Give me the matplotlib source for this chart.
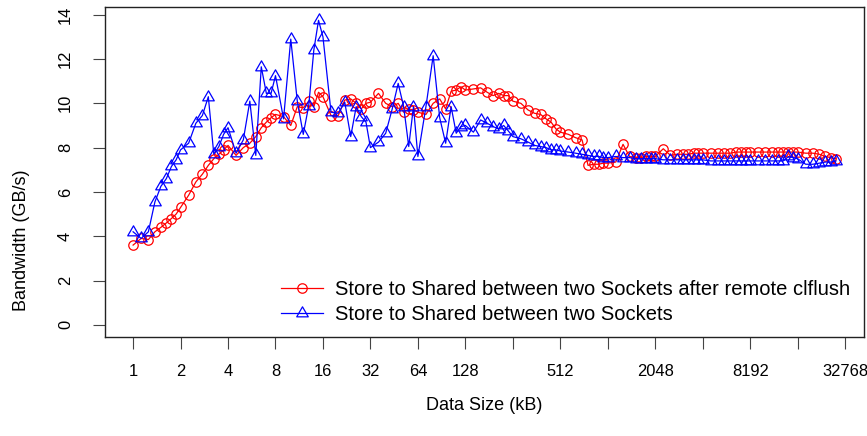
import matplotlib
matplotlib.use("Agg")
import matplotlib.pyplot as plt
from matplotlib.path import Path

plt.rcParams['font.family'] = ['Liberation Sans', 'DejaVu Sans']

# data sizes in kB, 8 steps per power of two
sizes = [
    1, 1.125, 1.25, 1.375, 1.5, 1.625, 1.75, 1.875,
    2, 2.25, 2.5, 2.75, 3, 3.25, 3.5, 3.75,
    4, 4.5, 5, 5.5, 6, 6.5, 7, 7.5,
    8, 9, 10, 11, 12, 13, 14, 15,
    16, 18, 20, 22, 24, 26, 28, 30,
    32, 36, 40, 44, 48, 52, 56, 60,
    64, 72, 80, 88, 96, 104, 112, 120,
    128, 144, 160, 176, 192, 208, 224, 240,
    256, 288, 320, 352, 384, 416, 448, 480,
    512, 576, 640, 704, 768, 832, 896, 960,
    1024, 1152, 1280, 1408, 1536, 1664, 1792, 1920,
    2048, 2304, 2560, 2816, 3072, 3328, 3584, 3840,
    4096, 4608, 5120, 5632, 6144, 6656, 7168, 7680,
    8192, 9216, 10240, 11264, 12288, 13312, 14336, 15360,
    16384, 18432, 20480, 22528, 24576, 26624, 28672,
]

# GB/s, store after remote clflush
bw_clflush = [
    3.6, 3.9, 3.85, 4.2, 4.4, 4.6, 4.8, 5.0,
    5.3, 5.85, 6.45, 6.8, 7.2, 7.5, 7.7, 7.9,
    8.1, 7.65, 8.0, 8.2, 8.5, 8.9, 9.15, 9.35,
    9.5, 9.4, 9.0, 9.85, 9.8, 10.1, 9.85, 10.5,
    10.3, 9.45, 9.45, 10.15, 10.2, 10.0, 9.75, 10.0,
    10.05, 10.45, 10.0, 9.85, 10.0, 9.6, 9.75, 9.7,
    9.6, 9.5, 10.0, 10.2, 9.75, 10.55, 10.6, 10.75,
    10.6, 10.65, 10.7, 10.5, 10.35, 10.45, 10.35, 10.35,
    10.1, 10.0, 9.7, 9.55, 9.5, 9.3, 9.15, 8.85,
    8.7, 8.6, 8.45, 8.35, 7.2, 7.25, 7.25, 7.3,
    7.3, 7.35, 8.15, 7.6, 7.55, 7.55, 7.6, 7.6,
    7.6, 7.95, 7.65, 7.7, 7.7, 7.7, 7.75, 7.75,
    7.75, 7.75, 7.75, 7.75, 7.75, 7.8, 7.8, 7.8,
    7.8, 7.8, 7.8, 7.8, 7.8, 7.8, 7.8, 7.8,
    7.8, 7.75, 7.75, 7.7, 7.6, 7.55, 7.5,
]

# GB/s, plain store
bw_store = [
    4.2, 3.9, 4.2, 5.55, 6.25, 6.6, 7.15, 7.45,
    7.9, 8.2, 9.1, 9.45, 10.3, 7.7, 8.05, 8.6,
    8.9, 7.75, 8.35, 10.1, 7.65, 11.65, 10.45, 10.45,
    11.25, 9.3, 12.9, 10.1, 8.6, 9.9, 12.4, 13.75,
    13.0, 9.6, 9.55, 10.05, 8.5, 9.85, 9.4, 9.15,
    8.0, 8.25, 8.65, 9.75, 10.9, 9.85, 8.05, 9.85,
    7.6, 9.85, 12.15, 9.35, 8.2, 9.85, 8.65, 8.95,
    9.0, 8.7, 9.25, 9.1, 8.95, 8.85, 9.0, 8.75,
    8.5, 8.4, 8.25, 8.1, 8.05, 8.0, 7.9, 7.9,
    7.85, 7.8, 7.75, 7.7, 7.65, 7.6, 7.6, 7.55,
    7.55, 7.6, 7.55, 7.55, 7.5, 7.5, 7.5, 7.5,
    7.5, 7.45, 7.45, 7.45, 7.45, 7.45, 7.45, 7.45,
    7.45, 7.4, 7.4, 7.4, 7.4, 7.4, 7.4, 7.4,
    7.4, 7.4, 7.4, 7.4, 7.4, 7.4, 7.6, 7.55,
    7.5, 7.25, 7.25, 7.3, 7.35, 7.35, 7.4,
]

xticks = [1, 2, 4, 8, 16, 32, 64, 128, 256, 512, 1024, 2048, 4096, 8192, 16384, 32768]
xtick_labels = ['1', '2', '4', '8', '16', '32', '64', '128', '', '512', '', '2048', '', '8192', '', '32768']

labels = ['Store to Shared between two Sockets after remote clflush',
          'Store to Shared between two Sockets']

# open triangle with its centroid on the data point
tri = Path([(0, 1.555), (1.347, -0.778), (-1.347, -0.778), (0, 1.555)],
           [Path.MOVETO, Path.LINETO, Path.LINETO, Path.CLOSEPOLY])

fig = plt.figure(figsize=(8.67, 4.36), dpi=100)
ax = fig.add_axes([105 / 867, 1 - 337 / 436, 759 / 867, 330 / 436])

ax.plot(sizes, bw_clflush, color='red', lw=0.9, marker='o', ms=6.8,
        mfc='none', mec='red', mew=0.9, label=labels[0])
ax.plot(sizes, bw_store, color='blue', lw=0.9, marker=tri, ms=9.6,
        mfc='none', mec='blue', mew=0.9, label=labels[1])

ax.set_xscale('log', base=2)
ax.set_xlim(2 ** -0.592, 2 ** 15.399)
ax.set_ylim(-0.55, 14.35)
ax.set_xticks(xticks)
ax.set_xticklabels(xtick_labels)
ax.minorticks_off()
ax.set_yticks(range(0, 15, 2))
ax.set_yticklabels([str(v) for v in range(0, 15, 2)], rotation=90, va='center')

ax.tick_params(axis='both', direction='out', length=8.6, width=0.8,
               color='#444444', labelsize=11.9)
ax.tick_params(axis='x', pad=10.5)
ax.tick_params(axis='y', pad=14.5)
for s in ax.spines.values():
    s.set_linewidth(1.0)
    s.set_color('#222222')

fig.text(22 / 867, 1 - 240 / 436, 'Bandwidth (GB/s)', rotation=90,
         ha='center', va='center', fontsize=13)
fig.text(484 / 867, 1 - 405 / 436, 'Data Size (kB)', ha='center',
         va='center', fontsize=13)

ax.legend(loc='center left', bbox_to_anchor=(281 / 867, 1 - 302 / 436),
          bbox_transform=fig.transFigure, frameon=False, fontsize=14.5,
          borderpad=0, borderaxespad=0, handlelength=2.07, handletextpad=0.62,
          labelspacing=0.32)

fig.savefig('out.png', dpi=100)
